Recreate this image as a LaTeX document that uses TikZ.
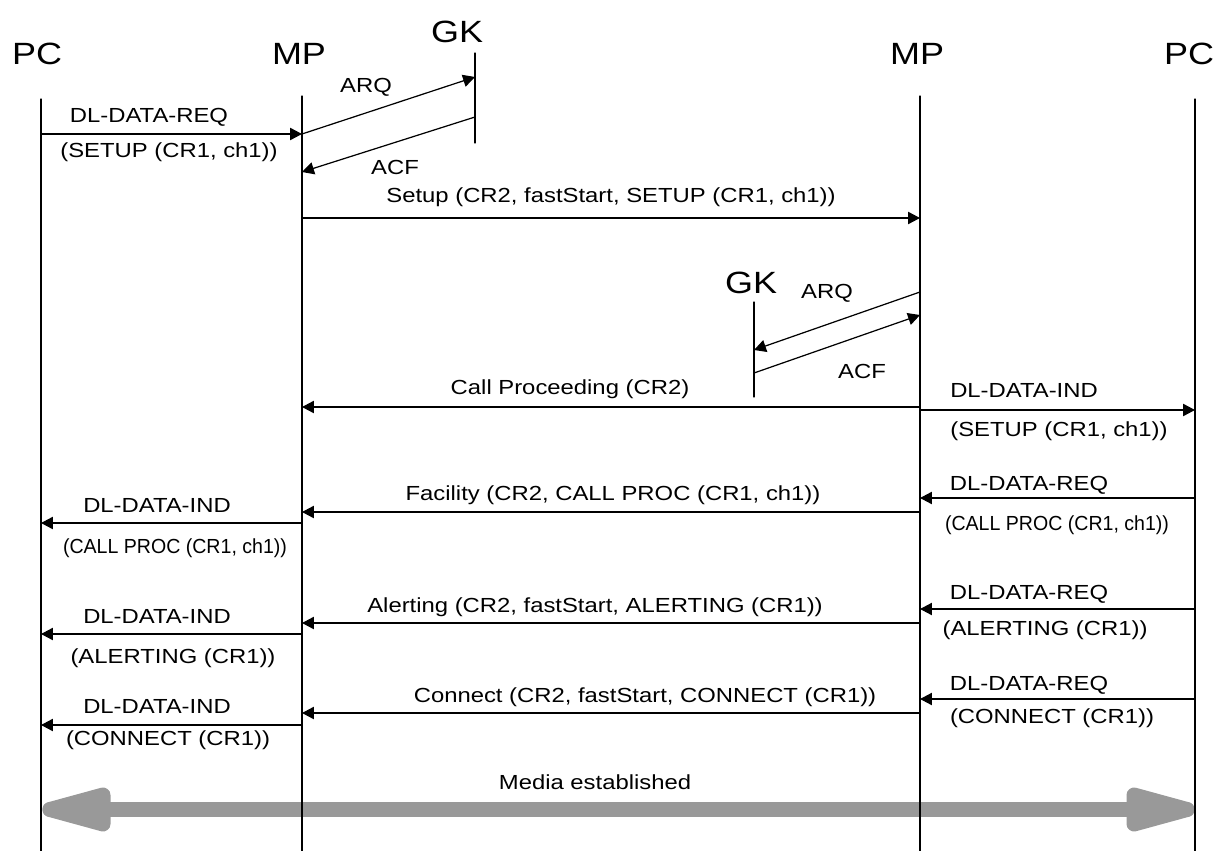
\documentclass[tikz,border=0pt]{standalone}
\usepackage{fontspec}
\setmainfont{Liberation Sans}[FakeStretch=1.17]
\newfontfamily\hepfont{Liberation Sans}[FakeStretch=0.96]
\usetikzlibrary{arrows.meta}
\definecolor{xammedia}{RGB}{153,153,153}
\tikzset{
	tieude/.style={font=\fontsize{17.5}{20}\selectfont,inner sep=0pt},
	nhan/.style={inner sep=0pt},
	truc/.style={line width=0.7pt},
	tin/.style={->,line width=0.7pt}
}
\begin{document}
\begin{tikzpicture}[x=0.02cm,y=-0.02cm,line join=round,line cap=round,>={Triangle[length=6.8pt,width=7pt]},font=\fontsize{11.6}{13}\selectfont]
	\useasboundingbox (0,0) rectangle (1226,851);
	% === Tiêu đề ===
	\node[tieude] (pcA) at (37,54) {PC};
	\node[tieude] (mpA) at (299,54) {MP};
	\node[tieude] (gkA) at (457,32) {GK};
	\node[tieude] (mpB) at (917,54) {MP};
	\node[tieude] (pcB) at (1189,54) {PC};
	\node[tieude] (gkB) at (751,283) {GK};
	% === Mũi tên media ===
	\coordinate (mtA) at (50,809.5);
	\coordinate (mtB) at (1187,809.5);
	\draw[xammedia,line width=0.3cm] (mtA) -- (mtB);
	\filldraw[xammedia,line width=0.3cm] (mtA) -- ++(53,-14.5) -- ++(0,29) -- cycle;
	\filldraw[xammedia,line width=0.3cm] (mtB) -- ++(-53,-14.5) -- ++(0,29) -- cycle;
	\node[nhan] (media) at (595,782) {Media established};
	% === Các trục thời gian ===
	\coordinate (pcL) at (41,99);   \draw[truc] (pcL) -- (pcL |- 0,851);
	\coordinate (mpL) at (302,96);  \draw[truc] (mpL) -- (mpL |- 0,851);
	\coordinate (mpR) at (920,96);  \draw[truc] (mpR) -- (mpR |- 0,851);
	\coordinate (pcR) at (1195,99); \draw[truc] (pcR) -- (pcR |- 0,851);
	\coordinate (gkL) at (475,53);  \draw[truc] (gkL) -- (gkL |- 0,143);
	\coordinate (gkR) at (754,302); \draw[truc] (gkR) -- (gkR |- 0,397);
	% === Bên trái: gọi đi ===
	\draw[tin] (pcL |- 0,134) -- (mpL |- 0,134);
	\node[nhan] (l1) at (149,117) {DL-DATA-REQ};
	\node[nhan] (l2) at (169,152) {(SETUP (CR1, ch1))};
	\draw[tin] (mpL |- 0,134) -- (gkL |- 0,77) node[nhan,pos=0.37,above=9pt] (arqA) {ARQ};
	\draw[tin] (gkL |- 0,117) -- (mpL |- 0,172);
	\node[nhan] (acfA) at (395,167) {ACF};
	\draw[tin] (mpL |- 0,218) -- (mpR |- 0,218) node[nhan,midway,above=6pt] (setup) {Setup (CR2, fastStart, SETUP (CR1, ch1))};
	% === Bên phải: GK ===
	\draw[tin] (mpR |- 0,292) -- (gkR |- 0,350);
	\node[nhan] (arqB) at (827,293) {ARQ};
	\draw[tin] (gkR |- 0,373) -- (mpR |- 0,315);
	\node[nhan] (acfB) at (862,371) {ACF};
	\draw[tin] (mpR |- 0,407) -- (mpL |- 0,407);
	\node[nhan] (cp) at (570,389) {Call Proceeding (CR2)};
	\draw[tin] (mpR |- 0,410) -- (pcR |- 0,410);
	\node[nhan] (r1) at (1024,390) {DL-DATA-IND};
	\node[nhan] (r2) at (1059,431) {(SETUP (CR1, ch1))};
	% === Facility ===
	\draw[tin] (pcR |- 0,498) -- (mpR |- 0,498);
	\node[nhan] (r3) at (1029,485) {DL-DATA-REQ};
	\node[nhan] (r4) at (1057,525) {\hepfont (CALL PROC (CR1, ch1))};
	\draw[tin] (mpR |- 0,512) -- (mpL |- 0,512);
	\node[nhan] (fac) at (613,495) {Facility (CR2, CALL PROC (CR1, ch1))};
	\draw[tin] (mpL |- 0,523) -- (pcL |- 0,523);
	\node[nhan] (l3) at (157,505) {DL-DATA-IND};
	\node[nhan] (l4) at (175,548) {\hepfont (CALL PROC (CR1, ch1))};
	% === Alerting ===
	\draw[tin] (pcR |- 0,609) -- (mpR |- 0,609);
	\node[nhan] (r5) at (1029,594) {DL-DATA-REQ};
	\node[nhan] (r6) at (1045,630) {(ALERTING (CR1))};
	\draw[tin] (mpR |- 0,623) -- (mpL |- 0,623);
	\node[nhan] (alert) at (595,607) {Alerting (CR2, fastStart, ALERTING (CR1))};
	\draw[tin] (mpL |- 0,634) -- (pcL |- 0,634);
	\node[nhan] (l5) at (157,616) {DL-DATA-IND};
	\node[nhan] (l6) at (173,658) {(ALERTING (CR1))};
	% === Connect ===
	\draw[tin] (pcR |- 0,699) -- (mpR |- 0,699);
	\node[nhan] (r7) at (1029,685) {DL-DATA-REQ};
	\node[nhan] (r8) at (1052,718) {(CONNECT (CR1))};
	\draw[tin] (mpR |- 0,713) -- (mpL |- 0,713);
	\node[nhan] (conn) at (645,697) {Connect (CR2, fastStart, CONNECT (CR1))};
	\draw[tin] (mpL |- 0,725) -- (pcL |- 0,725);
	\node[nhan] (l7) at (157,706) {DL-DATA-IND};
	\node[nhan] (l8) at (168,740) {(CONNECT (CR1))};
\end{tikzpicture}
\end{document}
